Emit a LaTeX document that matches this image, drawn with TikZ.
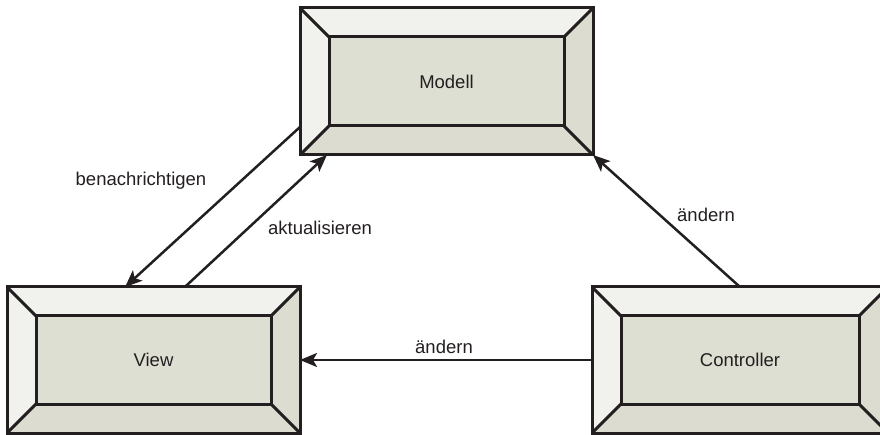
\documentclass[tikz,border=0pt]{standalone}
\usepackage{fontspec}
\setmainfont{Liberation Sans}
\usetikzlibrary{calc,arrows.meta}
\definecolor{facelight}{HTML}{F1F2ED}
\definecolor{facedark}{HTML}{DCDDD0}
\definecolor{faceinner}{HTML}{DEDFD3}
\definecolor{ink}{HTML}{231F20}

% beveled box: name, centre x, centre y, width, height, text
\newcommand\bevbox[6]{%
  \node[boxframe, minimum width=#4pt, minimum height=#5pt] (#1) at (#2,#3) {};
  \coordinate (#1-nw) at ($(#1.north west)+(29,29)$);
  \coordinate (#1-ne) at ($(#1.north east)+(-29,29)$);
  \coordinate (#1-se) at ($(#1.south east)+(-29,-29)$);
  \coordinate (#1-sw) at ($(#1.south west)+(29,-29)$);
  \fill[facelight] (#1.north west) -- (#1.north east) -- (#1-ne) -- (#1-nw) -- cycle;
  \fill[facelight] (#1.north west) -- (#1-nw) -- (#1-sw) -- (#1.south west) -- cycle;
  \fill[facedark] (#1.south west) -- (#1-sw) -- (#1-se) -- (#1.south east) -- cycle;
  \fill[facedark] (#1.north east) -- (#1.south east) -- (#1-se) -- (#1-ne) -- cycle;
  \fill[faceinner] (#1-nw) rectangle (#1-se);
  \draw[edge] (#1.north west) -- (#1-nw) (#1.north east) -- (#1-ne)
              (#1.south east) -- (#1-se) (#1.south west) -- (#1-sw);
  \draw[edge] (#1-nw) rectangle (#1-se);
  \draw[edge] (#1.north west) rectangle (#1.south east);
  \node[boxtext] (#1-text) at (#1) {#6};
}

\begin{document}
\begin{tikzpicture}[x=1pt, y=-1pt,
  boxframe/.style={inner sep=0pt, outer sep=0pt},
  edge/.style={draw=ink, line width=3pt},
  boxtext/.style={text=ink, font=\fontsize{18.5}{22}\selectfont},
  lbl/.style={text=ink, font=\fontsize{18.5}{22}\selectfont, inner sep=0pt},
  arr/.style={draw=ink, line width=2.5pt, -{Stealth[length=17pt, width=14pt, inset=4pt]}}]
  \useasboundingbox (0,0) rectangle (880,435);
  \fill[white] (0,0) rectangle (880,435);

  \bevbox{modell}{446.5}{81.5}{293}{147}{Modell}
  \bevbox{view}{153.5}{360}{293}{146}{View}
  \bevbox{controller}{740}{360}{296}{146}{Controller}

  \draw[arr] ($(modell.south west)+(0,-28)$) -- ($(view.north west)!0.403!(view.north east)$);
  \draw[arr] ($(view.north west)!0.607!(view.north east)$) -- ($(modell.south west)!0.092!(modell.south east)$);
  \draw[arr] (controller.north) -- (modell.south east);
  \draw[arr] (controller.west) -- (view.east);

  \node[lbl] (l-notify) at (141,181) {benachrichtigen};
  \node[lbl] (l-update) at (320,228) {aktualisieren};
  \node[lbl] (l-change1) at (706,215) {ändern};
  \node[lbl] (l-change2) at (444,347) {ändern};
\end{tikzpicture}
\end{document}
